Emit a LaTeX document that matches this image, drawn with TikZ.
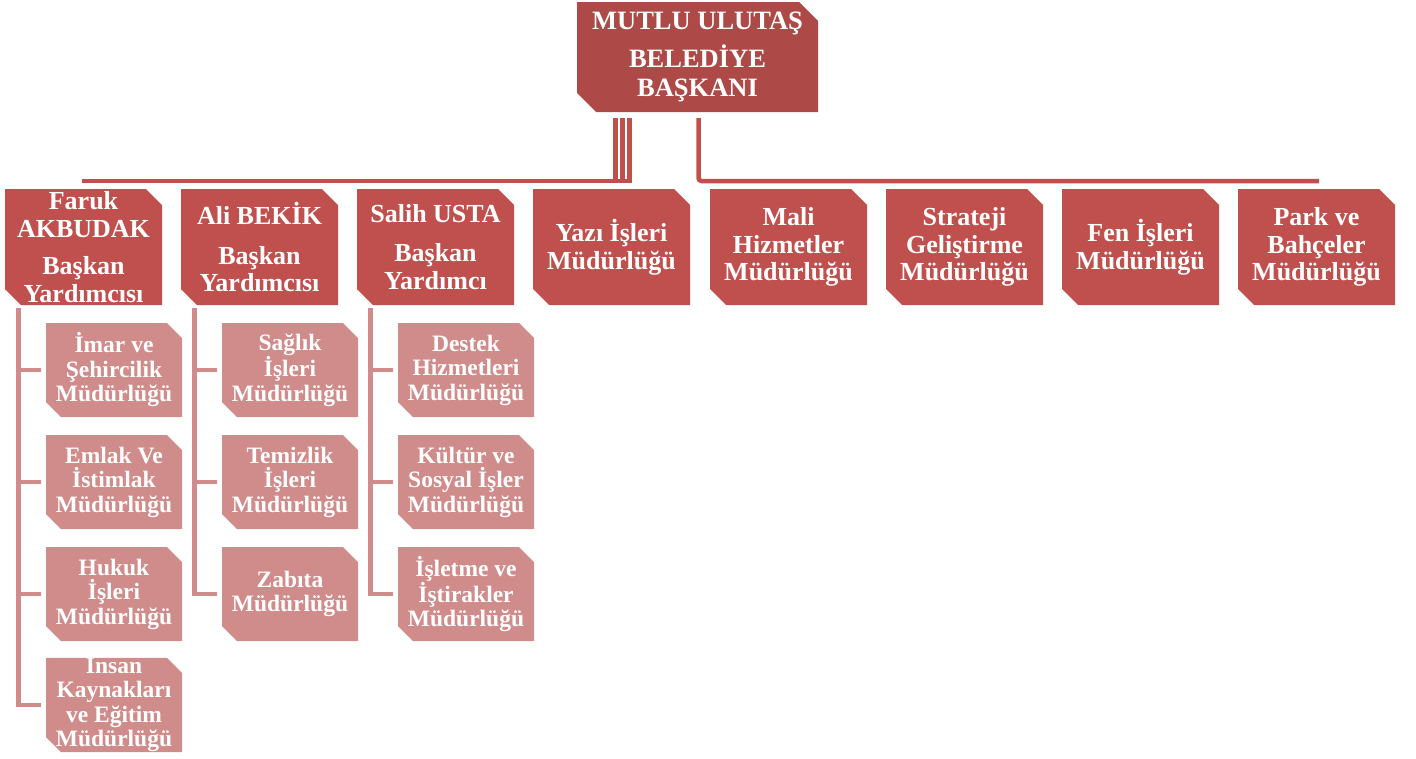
\documentclass[tikz,border=0pt]{standalone}
\usepackage{fontspec}
\setmainfont{Liberation Serif}
\definecolor{bossred}{HTML}{AD4946}
\definecolor{deptred}{HTML}{C0504D}
\definecolor{unitpink}{HTML}{D08C8A}
\tikzset{
  snip/.style 2 args={rectangle, inner sep=0pt, align=center, text=white,
    path picture={\fill[#1] ([xshift=-#2]path picture bounding box.north east)
      -- (path picture bounding box.north west)
      -- ([yshift=#2]path picture bounding box.south west)
      -- ([xshift=#2]path picture bounding box.south west)
      -- (path picture bounding box.south east)
      -- ([yshift=-#2]path picture bounding box.north east) -- cycle;}},
  boss/.style={snip={bossred}{19pt}, minimum width=241pt, minimum height=110pt,
    font=\bfseries\fontsize{26.5}{29}\selectfont},
  dept/.style={snip={deptred}{16pt}, minimum width=157pt, minimum height=116pt,
    font=\bfseries\fontsize{26}{27.5}\selectfont},
  unit/.style={snip={unitpink}{15pt}, minimum width=136pt, minimum height=94pt,
    font=\bfseries\fontsize{23.5}{24.5}\selectfont},
  mainlink/.style={draw=deptred, line width=4.5pt},
  unitlink/.style={draw=unitpink, line width=4.5pt, shorten >=5pt}
}
\begin{document}
\begin{tikzpicture}[x=1pt,y=-1pt]
\useasboundingbox (0,0) rectangle (1416,758);
\node[boss] (mayor) at (697.5,57) {MUTLU ULUTAŞ\\[9pt]BELEDİYE\\BAŞKANI};
% vice mayors and directorates
\node[dept] (faruk) at (83.5,247) {Faruk\\AKBUDAK\\[10pt]Başkan\\Yardımcısı};
\node[dept] (ali) at (259.5,247) {Ali BEKİK\\[12pt]Başkan\\Yardımcısı};
\node[dept] (salih) at (435.5,247) {Salih USTA\\[12pt]Başkan\\Yardımcı};
\node[dept] (yazi) at (611.5,247) {Yazı İşleri\\Müdürlüğü};
\node[dept] (mali) at (788.5,247) {Mali\\Hizmetler\\Müdürlüğü};
\node[dept] (strateji) at (964.5,247) {Strateji\\Geliştirme\\Müdürlüğü};
\node[dept] (fen) at (1140.5,247) {Fen İşleri\\Müdürlüğü};
\node[dept] (park) at (1316.5,247) {Park ve\\Bahçeler\\Müdürlüğü};
% units under the vice mayors
\node[unit] (imar) at (114,370) {İmar ve\\Şehircilik\\Müdürlüğü};
\node[unit] (emlak) at (114,482) {Emlak Ve\\İstimlak\\Müdürlüğü};
\node[unit] (hukuk) at (114,594) {Hukuk\\İşleri\\Müdürlüğü};
\node[unit] (insan) at (114,705) {Insan\\Kaynakları\\ve Eğitim\\Müdürlüğü};
\node[unit] (saglik) at (290,370) {Sağlık\\İşleri\\Müdürlüğü};
\node[unit] (temizlik) at (290,482) {Temizlik\\İşleri\\Müdürlüğü};
\node[unit] (zabita) at (290,594) {Zabıta\\Müdürlüğü};
\node[unit] (destek) at (466,370) {Destek\\Hizmetleri\\Müdürlüğü};
\node[unit] (kultur) at (466,482) {Kültür ve\\Sosyal İşler\\Müdürlüğü};
\node[unit] (isletme) at (466,594) {İşletme ve\\İştirakler\\Müdürlüğü};
% links
\coordinate (leftbus) at (82,181);
\coordinate (rightbus) at (1319,181);
\draw[mainlink] ([xshift=-68pt,yshift=-6pt]mayor.south) |- (leftbus);
\foreach \dx in {-82,-75}
  \draw[mainlink] ([xshift=\dx pt,yshift=-6pt]mayor.south) -- ++(0,63);
\draw[mainlink,rounded corners=3pt] ([xshift=1pt,yshift=-6pt]mayor.south) |- (rightbus);
\foreach \head/\kids in {faruk/{imar,emlak,hukuk,insan},ali/{saglik,temizlik,zabita},salih/{destek,kultur,isletme}}
  \foreach \kid in \kids
    \draw[unitlink] ([xshift=-65pt,yshift=-3pt]\head.south) |- (\kid.west);
\end{tikzpicture}
\end{document}
